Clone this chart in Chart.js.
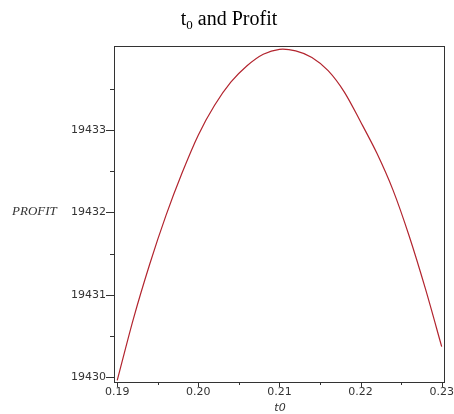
<!DOCTYPE html>
<html>
<head>
<meta charset="utf-8">
<script src="https://cdn.jsdelivr.net/npm/chart.js@4/dist/chart.umd.min.js"></script>
<style>
  html, body { margin: 0; padding: 0; background: #fff; }
  #wrap { width: 454px; height: 414px; position: relative; }
</style>
</head>
<body>
<div id="wrap"><canvas id="c" width="454" height="414"></canvas></div>
<script>
// ---- data ----
const t0 = [0.190, 0.192, 0.194, 0.196, 0.198, 0.200, 0.202, 0.204, 0.206, 0.208, 0.210,
            0.212, 0.214, 0.216, 0.218, 0.220, 0.222, 0.224, 0.226, 0.228, 0.230];
const profit = [19429.96, 19430.71, 19431.37, 19431.96, 19432.48, 19432.94, 19433.30, 19433.58,
                19433.78, 19433.92, 19433.98, 19433.96, 19433.88, 19433.72, 19433.46, 19433.10,
                19432.72, 19432.27, 19431.71, 19431.07, 19430.37];
const xTicks = [0.19, 0.195, 0.20, 0.205, 0.21, 0.215, 0.22, 0.225, 0.23];
const xMajor = [0.19, 0.20, 0.21, 0.22, 0.23];
const yTicks = [19430, 19430.5, 19431, 19431.5, 19432, 19432.5, 19433, 19433.5];
const yMajor = [19430, 19431, 19432, 19433];
const titleMain = 't';
const titleSub = '0';
const titleRest = ' and Profit';
const yTitle = 'PROFIT';
const xTitle = 't0';

const isMajor = (list, v) => list.some(m => Math.abs(m - v) < 1e-7);

const decor = {
  id: 'decor',
  afterDraw(chart) {
    const ctx = chart.ctx;
    const a = chart.chartArea;
    const xs = chart.scales.x, ys = chart.scales.y;
    ctx.save();
    // box
    ctx.strokeStyle = '#333';
    ctx.lineWidth = 1;
    ctx.strokeRect(Math.round(a.left) + 0.5, Math.round(a.top) + 0.5,
                   Math.round(a.right - a.left), Math.round(a.bottom - a.top));
    // ticks
    ctx.beginPath();
    xs.ticks.forEach(t => {
      const px = Math.round(xs.getPixelForValue(t.value)) + 0.5;
      const len = isMajor(xMajor, t.value) ? 5 : 3;
      ctx.moveTo(px, a.bottom);
      ctx.lineTo(px, a.bottom + len);
    });
    ys.ticks.forEach(t => {
      const py = Math.round(ys.getPixelForValue(t.value)) + 0.5;
      const len = isMajor(yMajor, t.value) ? 8 : 4;
      ctx.moveTo(a.left, py);
      ctx.lineTo(a.left - len, py);
    });
    ctx.stroke();
    // title with subscript
    ctx.fillStyle = '#000';
    ctx.textBaseline = 'alphabetic';
    ctx.textAlign = 'left';
    const fMain = '20px "Liberation Serif"';
    const fSub = '13px "Liberation Serif"';
    ctx.font = fMain;
    const w1 = ctx.measureText(titleMain).width;
    const w3 = ctx.measureText(titleRest).width;
    ctx.font = fSub;
    const w2 = ctx.measureText(titleSub).width;
    const total = w1 + w2 + w3;
    let x = 229 - total / 2;
    const base = 25;
    ctx.font = fMain;
    ctx.fillText(titleMain, x, base);
    x += w1;
    ctx.font = fSub;
    ctx.fillText(titleSub, x, base + 4);
    x += w2;
    ctx.font = fMain;
    ctx.fillText(titleRest, x, base);
    // y title
    ctx.font = 'italic 13px "Liberation Serif"';
    ctx.fillStyle = '#333';
    ctx.textAlign = 'left';
    ctx.textBaseline = 'middle';
    ctx.fillText(yTitle, 12, Math.round(ys.getPixelForValue(19432)));
    // x title
    ctx.font = 'italic 11px "DejaVu Sans"';
    ctx.textAlign = 'center';
    ctx.fillText(xTitle, 280, 408);
    ctx.restore();
  }
};

new Chart(document.getElementById('c'), {
  type: 'line',
  data: {
    datasets: [{
      data: t0.map((v, i) => ({ x: v, y: profit[i] })),
      borderColor: 'rgb(178,36,46)',
      borderWidth: 1.2,
      pointRadius: 0,
      tension: 0.3,
      fill: false
    }]
  },
  options: {
    responsive: false,
    animation: false,
    layout: { padding: { left: 0, top: 46, right: 9, bottom: 0 } },
    plugins: { legend: { display: false }, title: { display: false }, tooltip: { enabled: false } },
    scales: {
      x: {
        type: 'linear',
        min: 0.1896,
        max: 0.2303,
        afterBuildTicks: s => { s.ticks = xTicks.map(v => ({ value: v })); },
        afterFit: s => { s.height = 32; },
        border: { display: false },
        grid: { display: true, drawOnChartArea: false, drawTicks: true, tickLength: 4, tickColor: 'rgba(0,0,0,0)' },
        ticks: {
          autoSkip: false,
          maxRotation: 0,
          padding: 0,
          color: '#333',
          font: { family: 'DejaVu Sans', size: 11 },
          callback: v => isMajor(xMajor, v) ? v.toFixed(2) : ''
        }
      },
      y: {
        type: 'linear',
        min: 19429.94,
        max: 19434.02,
        afterBuildTicks: s => { s.ticks = yTicks.map(v => ({ value: v })); },
        afterFit: s => { s.width = 114; },
        border: { display: false },
        grid: { display: true, drawOnChartArea: false, drawTicks: true, tickLength: 8, tickColor: 'rgba(0,0,0,0)' },
        ticks: {
          autoSkip: false,
          padding: 0,
          color: '#333',
          font: { family: 'DejaVu Sans', size: 11 },
          callback: v => isMajor(yMajor, v) ? String(v) : ''
        }
      }
    }
  },
  plugins: [decor]
});
</script>
</body>
</html>
